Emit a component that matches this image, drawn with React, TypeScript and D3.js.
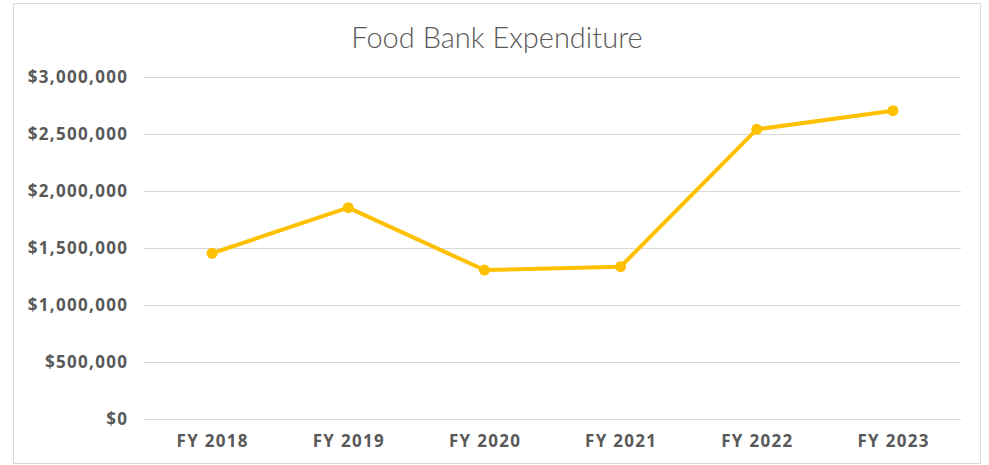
import React from "react";
import * as d3 from "d3";

const categories = ["FY 2018", "FY 2019", "FY 2020", "FY 2021", "FY 2022", "FY 2023"];
const expenditure = [1454000, 1853000, 1307000, 1336000, 2539000, 2702000];
const yTicks = [0, 500000, 1000000, 1500000, 2000000, 2500000, 3000000];
const title = "Food Bank Expenditure";

const W = 989;
const H = 465;
const left = 144;
const right = 961;
const top = 76.7;
const bottom = 419.3;

export default function App() {
  const x = d3.scaleBand<string>().domain(categories).range([left, right]).padding(0);
  const y = d3.scaleLinear().domain([0, 3000000]).range([bottom, top]);
  const fmt = (v: number) => "$" + d3.format(",")(v);
  const cx = (c: string) => (x(c) ?? 0) + x.bandwidth() / 2;
  const line = d3
    .line<number>()
    .x((_, i) => cx(categories[i]))
    .y((d) => y(d));
  const titleFont = "Lato, 'Open Sans', sans-serif";
  const labelFont = "'Open Sans', 'Noto Sans', sans-serif";
  const ls = 1.3;
  return (
    <svg
      width={W}
      height={H}
      style={{ position: "absolute", left: 0, top: 0, display: "block", background: "#fff" }}
    >
      <rect x={13.5} y={3.5} width={967} height={460} fill="#fff" stroke="#d9d9d9" strokeWidth={1} />
      <text
        x={497}
        y={47.5}
        textAnchor="middle"
        fontFamily={titleFont}
        fontWeight={300}
        fontSize={29}
        fill="#595959"
      >
        {title}
      </text>
      {yTicks.map((t) => (
        <g key={t}>
          <line
            x1={left}
            x2={right}
            y1={Math.round(y(t)) + 0.5}
            y2={Math.round(y(t)) + 0.5}
            stroke="#d9d9d9"
            strokeWidth={1}
          />
          <text
            x={127 + ls}
            y={y(t) + 6}
            textAnchor="end"
            fontFamily={labelFont}
            fontWeight={700}
            fontSize={17}
            letterSpacing={ls}
            fill="#595959"
          >
            {fmt(t)}
          </text>
        </g>
      ))}
      {categories.map((c) => (
        <text
          key={c}
          x={cx(c) + ls / 2}
          y={447}
          textAnchor="middle"
          fontFamily={labelFont}
          fontWeight={700}
          fontSize={17}
          letterSpacing={ls}
          fill="#595959"
        >
          {c}
        </text>
      ))}
      <path d={line(expenditure) ?? ""} fill="none" stroke="#FFC000" strokeWidth={4} strokeLinejoin="round" />
      {expenditure.map((v, i) => (
        <circle key={i} cx={cx(categories[i])} cy={y(v)} r={5.5} fill="#FFC000" />
      ))}
    </svg>
  );
}
